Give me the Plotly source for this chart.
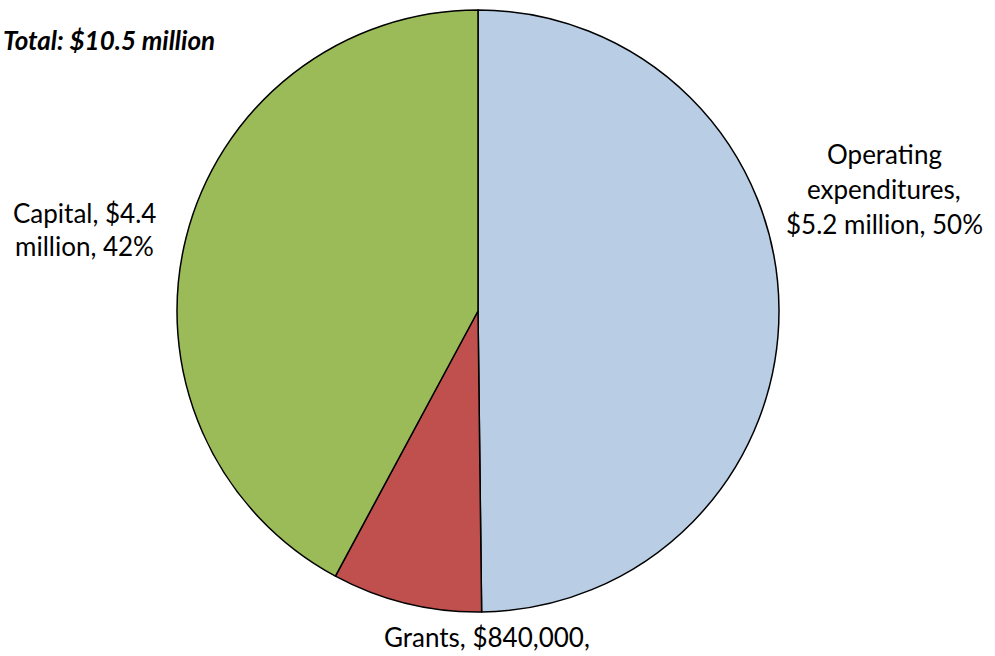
import plotly.graph_objects as go

W, H = 995, 656

categories = ["Operating expenditures", "Grants", "Capital"]
values_millions = [5.2, 0.84, 4.4]
label_lines = [
    ["Operating", "expenditures,", "$5.2 million, 50%"],
    ["Grants, $840,000,"],
    ["Capital, $4.4", "million, 42%"],
]
colors = ["#B9CDE5", "#C0504D", "#9BBB59"]
title_text = "Total: $10.5 million"

# label anchor (center of first line) in pixels
label_pos = [(884, 154), (487, 637), (84, 213)]
line_gap = [35, 35, 33]

def px(x):
    return x / W

def py(y):
    return 1 - y / H

cx, cy, r = 478, 311, 301

fig = go.Figure(go.Pie(
    labels=categories,
    values=values_millions,
    sort=False,
    direction="clockwise",
    rotation=0,
    marker=dict(colors=colors, line=dict(color="black", width=1.5)),
    textinfo="none",
    hoverinfo="label+value+percent",
    showlegend=False,
    domain=dict(x=[px(cx - r), px(cx + r)], y=[py(cy + r), py(cy - r)]),
))

font = dict(family="Lato, Open Sans, sans-serif", size=26, color="black")
annotations = []
for lines, (x0, y0), gap in zip(label_lines, label_pos, line_gap):
    for i, line in enumerate(lines):
        annotations.append(dict(
            text=line, x=px(x0), y=py(y0 + i * gap), xref="paper", yref="paper",
            xanchor="center", yanchor="middle", showarrow=False, font=font,
        ))
annotations.append(dict(
    text="<b><i>" + title_text + "</i></b>", x=px(1), y=py(40), xref="paper", yref="paper",
    xanchor="left", yanchor="middle", showarrow=False,
    font=dict(family="Lato, Open Sans, sans-serif", size=26, color="black"),
))

fig.update_layout(
    width=W, height=H,
    margin=dict(l=0, r=0, t=0, b=0),
    paper_bgcolor="white", plot_bgcolor="white",
    annotations=annotations,
)

fig.write_html("out.html")
